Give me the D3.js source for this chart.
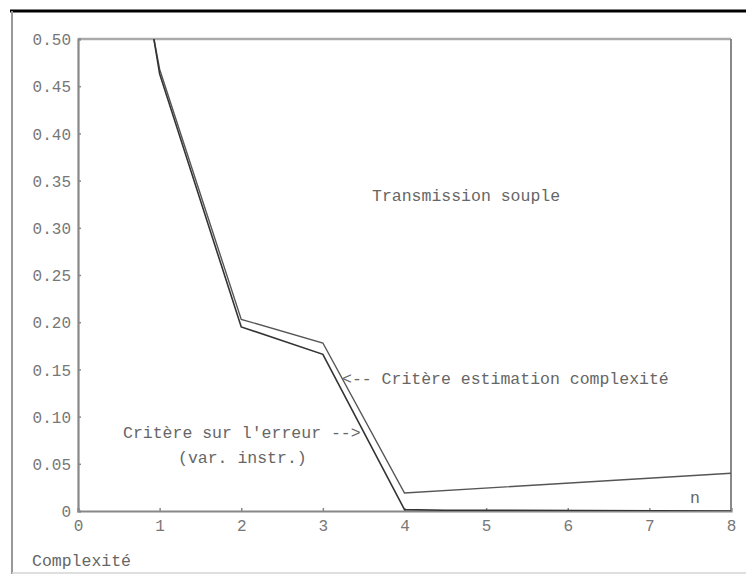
<!DOCTYPE html>
<html>
<head>
<meta charset="utf-8">
<script src="https://cdn.jsdelivr.net/npm/d3@7/dist/d3.min.js"></script>
<style>
  html, body { margin: 0; padding: 0; background: #ffffff; }
  svg { display: block; }
  text { font-family: "Liberation Mono", "Courier New", monospace; }
</style>
</head>
<body>
<script>
// ---- data ----
const xTicks = [0, 1, 2, 3, 4, 5, 6, 7, 8];
const yTicks = [0, 0.05, 0.10, 0.15, 0.20, 0.25, 0.30, 0.35, 0.40, 0.45, 0.50];

// Critère estimation complexité (upper curve)
const estimX = [0.93, 1, 2, 3, 4, 8];
const estimY = [0.50, 0.468, 0.203, 0.178, 0.019, 0.040];

// Critère sur l'erreur (var. instr.) (lower curve)
const erreurX = [0.93, 1, 2, 3, 4, 4.5, 8];
const erreurY = [0.50, 0.463, 0.195, 0.166, 0.0015, 0.0008, 0.0];

(function () {
const W = 746, H = 574;
const svg = d3.select("body").append("svg").attr("width", W).attr("height", H);

// window-like frame
svg.append("line").attr("x1", 10).attr("x2", W).attr("y1", 11).attr("y2", 11)
  .attr("stroke", "#000").attr("stroke-width", 3);
svg.append("line").attr("x1", 12).attr("x2", 12).attr("y1", 11).attr("y2", 574)
  .attr("stroke", "#999").attr("stroke-width", 2);
svg.append("line").attr("x1", 12).attr("x2", W).attr("y1", 573).attr("y2", 573)
  .attr("stroke", "#d4d4d4").attr("stroke-width", 1.5);

const mLeft = 78, mRight = 731, mTop = 39, mBottom = 511;
const x = d3.scaleLinear().domain([0, 8]).range([mLeft, mRight]);
const y = d3.scaleLinear().domain([0, 0.5]).range([mBottom, mTop]);

svg.append("clipPath").attr("id", "plotclip").append("rect")
  .attr("x", mLeft).attr("y", mTop).attr("width", mRight - mLeft).attr("height", mBottom - mTop);

// plot box
svg.append("line").attr("x1", mLeft).attr("x2", mRight).attr("y1", mTop).attr("y2", mTop)
  .attr("stroke", "#aaa").attr("stroke-width", 2.5);
svg.append("line").attr("x1", mRight).attr("x2", mRight).attr("y1", mTop).attr("y2", mBottom)
  .attr("stroke", "#888").attr("stroke-width", 2);

// axes
const xAxis = d3.axisBottom(x).tickValues(xTicks).tickSize(-3).tickPadding(9)
  .tickFormat(d => String(d));
const yAxis = d3.axisLeft(y).tickValues(yTicks).tickSize(-3).tickPadding(7)
  .tickFormat(d => d === 0 ? "0" : d.toFixed(2));

const gx = svg.append("g").attr("transform", `translate(0,${mBottom})`).call(xAxis);
const gy = svg.append("g").attr("transform", `translate(${mLeft},0)`).call(yAxis);

[gx, gy].forEach(g => {
  g.select(".domain").attr("stroke", "#888").attr("stroke-width", 2.2);
  g.selectAll(".tick line").attr("stroke", "#888").attr("stroke-width", 1.5);
  g.selectAll(".tick text").attr("fill", "#777")
    .style("font-family", '"Liberation Mono", "Courier New", monospace')
    .style("font-size", "16px");
});
gx.selectAll(".tick text").attr("dy", "0.71em");
gy.selectAll(".tick text").attr("dy", "0.35em");

// curves
const line = d3.line().x(d => x(d[0])).y(d => y(d[1]));
const estim = estimX.map((v, i) => [v, estimY[i]]);
const erreur = erreurX.map((v, i) => [v, erreurY[i]]);

const gLines = svg.append("g").attr("clip-path", "url(#plotclip)");
gLines.append("path").datum(estim).attr("d", line)
  .attr("fill", "none").attr("stroke", "#555").attr("stroke-width", 1.4);
gLines.append("path").datum(erreur).attr("d", line)
  .attr("fill", "none").attr("stroke", "#333").attr("stroke-width", 1.6);

// annotations
const ann = [
  ["Transmission souple", 372, 201],
  ["<-- Critère estimation complexité", 342, 384],
  ["Critère sur l'erreur -->", 123, 438],
  ["(var. instr.)", 178, 463],
  ["n", 690, 503],
  ["Complexité", 32, 566]
];
svg.selectAll("text.ann").data(ann).enter().append("text")
  .attr("class", "ann")
  .attr("x", d => d[1]).attr("y", d => d[2])
  .attr("fill", "#666")
  .style("font-size", "16.5px")
  .text(d => d[0]);
})();
</script>
</body>
</html>
